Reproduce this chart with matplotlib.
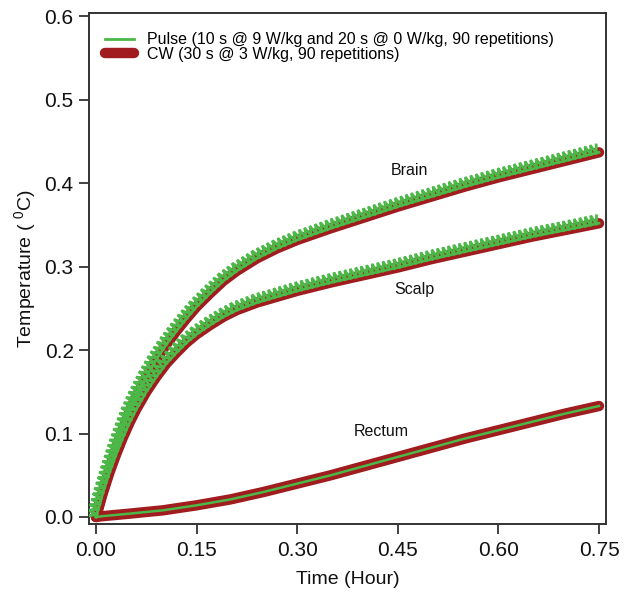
import matplotlib
matplotlib.use("Agg")
import matplotlib.pyplot as plt
import matplotlib.patheffects as pe
from matplotlib.lines import Line2D

plt.rcParams['font.family'] = ['Liberation Sans', 'DejaVu Sans']
plt.rcParams['mathtext.fontset'] = 'custom'
plt.rcParams['mathtext.rm'] = 'Liberation Sans'

# ---- data ----
time_h = [0.0, 0.01, 0.02, 0.03, 0.04, 0.05, 0.06, 0.075, 0.09, 0.105, 0.12,
          0.135, 0.15, 0.17, 0.19, 0.21, 0.24, 0.27, 0.30, 0.35, 0.40, 0.45,
          0.50, 0.55, 0.60, 0.65, 0.70, 0.75]

brain_cw = [0.0, 0.030, 0.057, 0.082, 0.105, 0.126, 0.144, 0.168, 0.189, 0.207,
            0.223, 0.238, 0.252, 0.268, 0.283, 0.295, 0.310, 0.322, 0.332, 0.346,
            0.359, 0.372, 0.384, 0.396, 0.407, 0.417, 0.427, 0.437]
scalp_cw = [0.0, 0.028, 0.053, 0.075, 0.095, 0.113, 0.129, 0.150, 0.168, 0.184,
            0.197, 0.209, 0.219, 0.230, 0.240, 0.248, 0.257, 0.264, 0.271, 0.281,
            0.290, 0.299, 0.309, 0.318, 0.327, 0.336, 0.344, 0.352]

brain_pulse = [0.0, 0.030, 0.057, 0.082, 0.105, 0.126, 0.144, 0.168, 0.189, 0.207,
               0.223, 0.238, 0.252, 0.268, 0.283, 0.295, 0.310, 0.322, 0.332, 0.346,
               0.359, 0.372, 0.384, 0.396, 0.407, 0.417, 0.427, 0.437]
scalp_pulse = [0.0, 0.028, 0.053, 0.075, 0.095, 0.113, 0.129, 0.150, 0.168, 0.184,
               0.197, 0.209, 0.219, 0.230, 0.240, 0.248, 0.257, 0.264, 0.271, 0.281,
               0.290, 0.299, 0.309, 0.318, 0.327, 0.336, 0.344, 0.352]

rectum_time_h = [0.0, 0.01, 0.05, 0.10, 0.15, 0.20, 0.25, 0.30, 0.35, 0.40,
                 0.45, 0.50, 0.55, 0.60, 0.65, 0.70, 0.75]
rectum_cw = [0.0, 0.001, 0.004, 0.008, 0.014, 0.021, 0.030, 0.040, 0.050, 0.061,
             0.072, 0.083, 0.094, 0.104, 0.114, 0.124, 0.133]
rectum_pulse = [0.0, 0.001, 0.004, 0.008, 0.014, 0.021, 0.030, 0.040, 0.050, 0.061,
                0.072, 0.083, 0.094, 0.104, 0.114, 0.124, 0.133]

region_labels = ["Brain", "Scalp", "Rectum"]
label_x = [0.468, 0.475, 0.425]
label_y = [0.415, 0.273, 0.103]

x_ticks = [0.00, 0.15, 0.30, 0.45, 0.60, 0.75]
y_ticks = [0.0, 0.1, 0.2, 0.3, 0.4, 0.5, 0.6]

pulse_label = "Pulse (10 s @ 9 W/kg and 20 s @ 0 W/kg, 90 repetitions)"
cw_label = "CW (30 s @ 3 W/kg, 90 repetitions)"

# ---- style ----
GREEN = '#4cb848'
RED = '#a01c1e'
AX = '#333333'
TXT = '#111111'

fig = plt.figure(figsize=(6.24, 5.99), dpi=100)
ax = fig.add_axes([89/624, 75/599, 517/624, 511/599])

# saw-tooth look of the pulsed curves (rise 10 s, fall 20 s)
sp = 4.0
teeth = [pe.Normal(),
         pe.TickedStroke(spacing=sp, angle=77, length=1.45),
         pe.TickedStroke(spacing=sp, angle=115, length=1.55)]

ax.plot(time_h, brain_cw, color=RED, lw=7.5, solid_capstyle='round', zorder=2)
ax.plot(time_h, scalp_cw, color=RED, lw=7.5, solid_capstyle='round', zorder=2)
ax.plot(rectum_time_h, rectum_cw, color=RED, lw=7.5, solid_capstyle='round', zorder=2)

ax.plot(time_h, brain_pulse, color=GREEN, lw=2.0, zorder=3, path_effects=teeth)
ax.plot(time_h, scalp_pulse, color=GREEN, lw=2.0, zorder=3, path_effects=teeth)
ax.plot(rectum_time_h, rectum_pulse, color=GREEN, lw=1.8, zorder=3)

for name, lx, ly in zip(region_labels, label_x, label_y):
    ax.text(lx, ly, name, ha='center', va='center', fontsize=11.5, color=TXT)

ax.set_xlim(-0.0104, 0.7604)
ax.set_ylim(-0.0084, 0.604)
ax.set_xticks(x_ticks)
ax.set_xticklabels([f"{v:.2f}" for v in x_ticks])
ax.set_yticks(y_ticks)
ax.set_yticklabels([f"{v:.1f}" for v in y_ticks])
ax.tick_params(axis='both', direction='out', length=7, width=1.3, color=AX,
               labelsize=15, labelcolor=TXT, top=False, right=False)
ax.tick_params(axis='x', pad=5)
ax.tick_params(axis='y', pad=4)
for s in ax.spines.values():
    s.set_color(AX)
    s.set_linewidth(1.4)

ax.set_xlabel("Time (Hour)", fontsize=14, color=TXT, labelpad=8)
ax.set_ylabel("Temperature ( $^{0}$C)", fontsize=14, color=TXT, labelpad=4)

handles = [Line2D([0], [0], color=GREEN, lw=2.0),
           Line2D([0], [0], color=RED, lw=7.5, solid_capstyle='round')]
ax.legend(handles, [pulse_label, cw_label], loc='upper left',
          bbox_to_anchor=(0.031, 0.962), frameon=False, fontsize=11.5,
          handlelength=1.8, handletextpad=0.8, labelspacing=-0.05,
          borderaxespad=0, borderpad=0)

fig.savefig("out.png", dpi=100)
